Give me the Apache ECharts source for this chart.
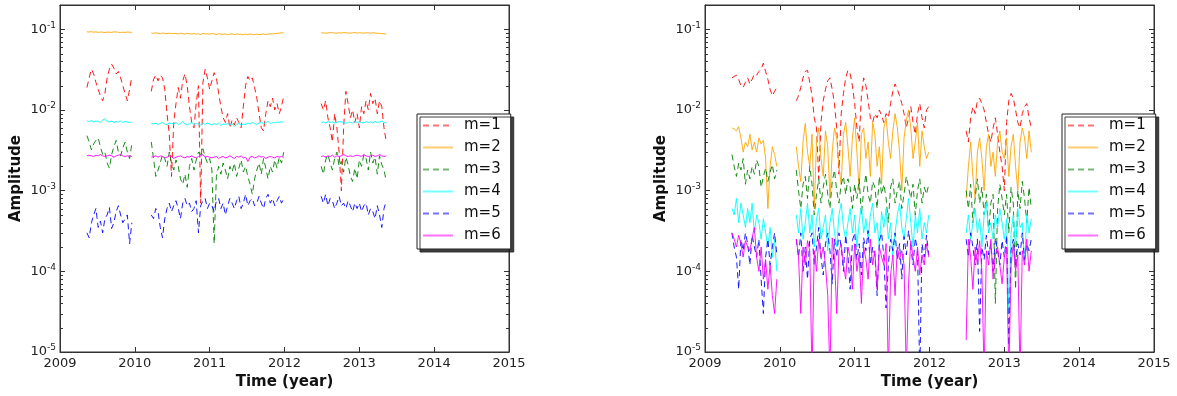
<!DOCTYPE html>
<html>
<head>
<meta charset="utf-8">
<script src="https://cdn.jsdelivr.net/npm/echarts@6/dist/echarts.min.js"></script>
<style>
  html, body { margin: 0; padding: 0; background: #fff; }
  #chart { width: 1177px; height: 396px; }
</style>
</head>
<body>
<div id="chart"></div>
<script>
// sample times (year); gaps between observing seasons are kept as breaks
const time = [
  2009.36, 2009.39, 2009.42, 2009.45, 2009.48, 2009.51, 2009.54, 2009.57, 2009.60, 2009.63, 2009.66,
  2009.69, 2009.72, 2009.75, 2009.78, 2009.81, 2009.84, 2009.87, 2009.90, 2009.93, 2009.96,
  2010.22, 2010.25, 2010.28, 2010.31, 2010.34, 2010.37, 2010.40, 2010.43, 2010.46, 2010.49, 2010.52,
  2010.55, 2010.58, 2010.61, 2010.64, 2010.67, 2010.70, 2010.73, 2010.76, 2010.79, 2010.82, 2010.85,
  2010.88, 2010.91, 2010.94, 2010.97,
  2011.00, 2011.03, 2011.06, 2011.09, 2011.12, 2011.15, 2011.18, 2011.21, 2011.24, 2011.27, 2011.30,
  2011.33, 2011.36, 2011.39, 2011.42, 2011.45, 2011.48, 2011.51, 2011.54, 2011.57, 2011.60, 2011.63,
  2011.66, 2011.69, 2011.72, 2011.75, 2011.78, 2011.81, 2011.84, 2011.87, 2011.90, 2011.93, 2011.96, 2011.99,
  2012.49, 2012.52, 2012.55, 2012.58, 2012.61, 2012.64, 2012.67, 2012.70, 2012.73, 2012.76, 2012.79,
  2012.82, 2012.85, 2012.88, 2012.91, 2012.94, 2012.97,
  2013.00, 2013.03, 2013.06, 2013.09, 2013.12, 2013.15, 2013.18, 2013.21, 2013.24, 2013.27, 2013.30,
  2013.33, 2013.36
];

// amplitudes, all in units of 1e-4
// left panel
const leftM1 = [
  190, 250, 320, 280, 220, 180, 150, 130, 160, 250, 320, 370, 330, 280, 300, 250, 200, 160, 130, 180, 260,
  170, 240, 270, 230, 270, 250, 180, 90, 50, 15, 70, 120, 190, 140, 230, 280, 200, 110, 70, 60, 120, 200, 7, 220, 320, 250,
  180, 230, 290, 250, 160, 110, 80, 70, 90, 60, 75, 65, 80, 70, 60, 110, 200, 260, 230, 250, 190, 140, 90, 60, 55, 90, 130, 110, 140, 100, 120, 90, 110, 150,
  120, 100, 130, 80, 60, 40, 90, 60, 30, 10, 60, 170, 120, 80, 100, 70, 90,
  60, 110, 90, 130, 100, 160, 120, 140, 90, 130, 110, 60, 40
];
const leftM2 = [
  930, 925, 935, 920, 930, 915, 925, 920, 910, 925, 920, 915, 930, 925, 920, 910, 920, 915, 925, 920, 915,
  900, 890, 905, 895, 880, 900, 890, 885, 895, 880, 890, 885, 875, 895, 880, 870, 890, 880, 875, 885, 870, 880, 860, 890, 875, 880,
  870, 885, 875, 860, 880, 870, 865, 875, 855, 870, 880, 860, 875, 865, 870, 855, 870, 860, 875, 865, 855, 870, 860, 865, 875, 860, 870, 880, 875, 885, 890, 895, 905, 900,
  900, 905, 895, 900, 910, 905, 900, 895, 905, 900, 910, 905, 900, 895, 905, 910, 900,
  905, 900, 895, 905, 900, 895, 905, 900, 895, 890, 885, 880, 875
];
const leftM3 = [
  48, 40, 32, 38, 42, 45, 35, 28, 30, 22, 19, 28, 35, 42, 30, 27, 34, 40, 30, 25, 38,
  40, 25, 15, 18, 22, 28, 25, 20, 30, 22, 18, 24, 20, 14, 12, 16, 11, 20, 25, 18, 24, 30, 28, 33, 26, 22,
  25, 18, 2.2, 15, 20, 16, 22, 18, 14, 20, 17, 22, 15, 19, 24, 17, 20, 15, 12, 9, 14, 18, 22, 16, 25, 19, 14, 20, 17, 24, 19, 26, 22, 30,
  20, 16, 24, 28, 22, 18, 25, 30, 20, 23, 17, 26, 21, 15, 13, 19, 14,
  24, 20, 28, 25, 18, 30, 22, 26, 16, 27, 21, 18, 13
];
const leftM4 = [
  73, 72, 74, 71, 73, 72, 70, 75, 78, 72, 71, 73, 70, 72, 71, 73, 70, 72, 71, 70, 71,
  68, 67, 69, 66, 68, 70, 67, 66, 69, 68, 67, 70, 66, 68, 72, 67, 65, 68, 70, 66, 68, 67, 65, 68, 66, 69,
  67, 65, 68, 66, 69, 64, 67, 66, 68, 65, 67, 63, 66, 68, 65, 67, 66, 69, 67, 70, 68, 66, 69, 71, 67, 70, 72, 68, 70, 69, 71, 70, 72, 70,
  70, 71, 69, 72, 70, 71, 69, 70, 72, 71, 70, 68, 71, 70, 69, 72, 70,
  71, 70, 69, 72, 70, 71, 69, 72, 70, 71, 73, 70, 69
];
const leftM5 = [
  3, 2.6, 4, 5, 6, 3.5, 4.2, 3, 4.5, 5, 6.2, 3.4, 4, 5.5, 6.5, 5, 4, 4.5, 5, 2.2, 4,
  5, 4.5, 6, 5.5, 3.5, 2.6, 4.5, 6, 7, 5.5, 6.5, 7.5, 6, 4.5, 7, 8, 6.5, 7, 5.5, 6, 7.5, 3, 6.5, 7.5, 8, 6,
  7, 6.5, 5.5, 7.5, 8, 6, 7, 5, 6.5, 8, 7, 6, 7.5, 8.5, 6, 7, 9, 6.5, 7.5, 8, 6.5, 7, 8.5, 7, 6, 8, 9, 7, 8, 6.5, 7.5, 8.5, 7, 8,
  8.5, 7, 9, 6.5, 8, 7.5, 6, 7, 8.5, 6.5, 7, 6, 7.5, 6.5, 5.5, 7, 6,
  7, 5.5, 6.5, 7, 5, 6, 5.5, 4.5, 6.5, 5, 3.5, 6, 7.5
];
const leftM6 = [
  27, 27.5, 27, 26.5, 27.5, 27, 28, 27, 26.5, 27, 27.5, 27, 26, 27, 27.5, 28, 27, 26.5, 27, 27, 26.5,
  26, 26.5, 27, 26, 27, 26.5, 25.5, 26, 27, 26.5, 25, 26, 26.5, 27, 26, 25.5, 26.5, 26, 27, 26, 25.5, 26.5, 27, 28, 26, 26.5,
  26, 25.5, 26, 26.5, 25, 26, 26.5, 25.5, 26, 27, 26, 25, 26.5, 26, 27, 25.5, 26, 23, 26, 26.5, 25.5, 26, 27, 26, 26.5, 25, 26, 26.5, 26, 25.5, 26.5, 26, 26.5, 26,
  26.5, 27, 26, 27, 26.5, 27.5, 26, 27, 26.5, 27, 28, 27, 26.5, 27, 26.5, 27, 27.5,
  27, 26.5, 28, 27, 26.5, 27, 27.5, 26.5, 27, 28, 27, 26.5, 27
];

// right panel
const rightM1 = [
  250, 260, 270, 240, 200, 190, 220, 250, 210, 240, 280, 270, 300, 320, 380, 300, 240, 180, 150, 170, 190,
  130, 150, 190, 250, 300, 310, 220, 150, 80, 60, 14, 70, 130, 180, 230, 250, 180, 120, 60, 16, 90, 160, 250, 310, 280, 200,
  120, 60, 40, 150, 250, 200, 130, 80, 70, 90, 80, 100, 85, 70, 90, 80, 120, 170, 210, 180, 150, 120, 90, 60, 80, 110, 70, 50, 90, 120, 80, 60, 100, 110,
  55, 40, 80, 110, 90, 130, 140, 120, 100, 70, 50, 40, 60, 80, 50, 30, 20,
  10, 70, 130, 160, 140, 100, 70, 60, 90, 110, 120, 80, 60
];
const rightM2 = [
  60, 58, 55, 62, 45, 30, 40, 35, 50, 32, 40, 30, 45, 38, 42, 25, 6, 20, 35, 28, 20,
  35, 20, 13, 40, 68, 30, 20, 50, 6, 40, 60, 25, 15, 55, 35, 8, 30, 60, 45, 20, 12, 50, 70, 35, 15, 45,
  80, 30, 10, 50, 60, 25, 40, 15, 70, 50, 20, 35, 12, 60, 80, 40, 25, 55, 90, 60, 30, 10, 45, 75, 100, 60, 25, 40, 70, 20, 55, 35, 25, 30,
  8, 20, 40, 15, 8, 30, 45, 25, 10, 35, 50, 20, 30, 15, 40, 55, 30,
  25, 45, 15, 35, 50, 20, 10, 40, 60, 45, 25, 55, 30
];
const rightM3 = [
  28, 20, 15, 22, 18, 25, 12, 18, 14, 20, 16, 24, 20, 11, 15, 19, 13, 17, 21, 14, 18,
  18, 10, 6, 12, 15, 8, 20, 12, 5, 9, 14, 7, 11, 16, 9, 6, 13, 18, 10, 7, 12, 15, 9, 14, 11, 6,
  12, 8, 14, 5, 10, 16, 9, 7, 13, 11, 6, 15, 9, 12, 8, 4, 11, 14, 7, 10, 13, 6, 9, 15, 11, 8, 12, 5, 10, 14, 7, 11, 9, 12,
  10, 6, 12, 4, 8, 14, 7, 11, 5, 9, 3, 7, 9, 0.4, 6, 12, 8,
  5, 9, 3, 11, 7, 0.6, 10, 6, 13, 8, 4, 11, 6
];
const rightM4 = [
  6, 5, 8, 4, 7, 5, 3.5, 6, 4, 7, 3, 5, 4, 2.5, 4.5, 3, 2, 3.5, 1.5, 2.5, 1,
  5, 3, 6, 2.5, 4, 7, 3, 5, 2, 4.5, 6, 2.5, 3.5, 5, 1.8, 4, 6, 3, 2, 5, 7, 3.5, 2.5, 4, 6, 3,
  5, 2, 4, 6.5, 3, 4.5, 2.5, 5, 7, 3, 4, 2, 5.5, 3.5, 6, 2.5, 4, 1.5, 3, 5, 7, 3.5, 2.5, 4.5, 8, 4, 2, 5, 3, 6, 2.5, 4, 3, 5,
  3, 5, 2.5, 4, 6, 3, 4.5, 2, 5, 7, 3, 4, 2.5, 5, 3.5, 6, 4,
  2.5, 4.5, 0.3, 3, 5, 2, 6, 3.5, 4, 1.2, 5, 3, 4.5
];
const rightM5 = [
  3, 2, 1.5, 0.6, 2.5, 1.8, 3, 2.2, 1.2, 2.8, 2, 1.5, 2.5, 0.8, 0.3, 1.5, 2.5, 1.2, 2, 3, 1.6,
  2.5, 1.5, 3, 1, 2, 0.8, 2.5, 3, 1.2, 2, 3.5, 1.5, 0.9, 2.2, 3, 1.8, 0.7, 2.5, 1.5, 3, 2, 1, 2.8, 1.6, 0.6, 2.4,
  3, 1.4, 2.2, 0.9, 2.6, 1.8, 3.2, 1.2, 2, 1.6, 0.5, 2.4, 3, 1.5, 0.35, 1.2, 2.5, 1.8, 3, 1.4, 2.2, 0.8, 2.7, 1.6, 3.2, 2, 1.2, 2.6, 1.8, 0.05, 2.2, 1.5, 2.8, 1.6,
  2.5, 1.5, 3, 2, 1.2, 2.5, 0.18, 2, 1.4, 2.8, 1.6, 2.2, 1, 2.6, 1.8, 1.2, 2.4,
  1.5, 2.8, 0.12, 1.8, 2.5, 1.2, 2.2, 1.6, 3, 1.4, 2.2, 1.8, 2.5
];
const rightM6 = [
  3, 2.5, 2, 2.8, 2.2, 1.5, 2.4, 2, 1.8, 2.6, 3.5, 1.5, 1, 2, 0.8, 1.4, 0.6, 1.2, 0.5, 0.3, 0.8,
  2.5, 1.5, 0.3, 2, 1.2, 2.4, 1.8, 0.05, 1.8, 1, 2.5, 1.5, 2, 1.2, 0.5, 0.05, 2.6, 1.5, 0.3, 1.8, 2.2, 1.2, 0.8, 2, 1.5, 0.6,
  2.2, 1, 1.6, 0.4, 2, 1.4, 0.8, 2.5, 1.2, 1.8, 0.6, 2, 1.5, 1.2, 2.2, 0.05, 0.9, 1.6, 0.5, 2, 1.4, 1.8, 1.2, 0.05, 0.7, 2.4, 1.5, 1, 2, 0.9, 1.6, 1.2, 2.2, 1.5,
  0.14, 2.5, 1.5, 0.6, 2, 1.2, 2.4, 1, 0.05, 1.8, 1.2, 2.5, 0.8, 1.6, 2, 1.2, 0.7,
  1.5, 2, 0.05, 1.2, 2.2, 1, 1.6, 0.05, 1.8, 1.2, 2.5, 1, 1.8
];

const unit = 1e-4;
const names = ['m=1', 'm=2', 'm=3', 'm=4', 'm=5', 'm=6'];
const colors = ['#ff0000', '#ffa500', '#008000', '#00ffff', '#0000ff', '#ff00ff'];
const dashed = [true, false, true, false, true, false];
const xTicks = [2009, 2010, 2011, 2012, 2013, 2014, 2015];
const decades = [1e-5, 1e-4, 1e-3, 1e-2];
const minorSteps = [2, 3, 4, 5, 6, 7, 8, 9];

const panels = [
  { left: 60, series: [leftM1, leftM2, leftM3, leftM4, leftM5, leftM6] },
  { left: 705, series: [rightM1, rightM2, rightM3, rightM4, rightM5, rightM6] }
];

const FONT = 'DejaVu Sans';
const AXIS_COLOR = '#333';

function toPairs(values) {
  const out = [];
  for (let i = 0; i < time.length; i++) {
    if (i > 0 && time[i] - time[i - 1] > 0.1) {
      out.push([time[i - 1] + 0.01, null]);
    }
    out.push([time[i], values[i] * unit]);
  }
  return out;
}

function powLabel(val) {
  const e = Math.round(Math.log10(val));
  if (Math.abs(val / Math.pow(10, e) - 1) > 1e-6) return '';
  return '{b|10}{s|' + e + '}';
}

// log minor tick positions (2..9 x 10^n), plus 0.2 at the top edge
const minorVals = [];
decades.forEach(d => minorSteps.forEach(s => minorVals.push(+(d * s).toPrecision(3))));
[0.2, 0.3, 0.4, 0.5, 0.6, 0.7, 0.8, 0.9].forEach(s => minorVals.push(s * 0.1));

function minorTickItem(params, api) {
  const v = api.value(1);
  const a = api.coord([2009, v]);
  const b = api.coord([2015, v]);
  const y = Math.round(a[1]) + 0.5;
  const st = { stroke: AXIS_COLOR, lineWidth: 1 };
  return {
    type: 'group',
    children: [
      { type: 'line', shape: { x1: a[0], y1: y, x2: a[0] + 3, y2: y }, style: st },
      { type: 'line', shape: { x1: b[0], y1: y, x2: b[0] - 3, y2: y }, style: st }
    ]
  };
}

const grids = [], xAxes = [], yAxes = [], series = [], legends = [];

panels.forEach((p, gi) => {
  grids.push({ left: p.left, top: 5, width: 449, height: 347, show: true,
    borderColor: AXIS_COLOR, borderWidth: 1, backgroundColor: 'transparent' });

  // bottom axis with labels
  xAxes.push({
    type: 'value', gridIndex: gi, min: 2009, max: 2015, interval: 1,
    name: 'Time (year)', nameLocation: 'middle', nameGap: 20,
    nameTextStyle: { fontFamily: FONT, fontWeight: 'bold', fontSize: 15, color: '#111' },
    axisLine: { show: true, onZero: false, lineStyle: { color: AXIS_COLOR } },
    axisTick: { show: true, inside: true, length: 5, lineStyle: { color: AXIS_COLOR } },
    axisLabel: { fontFamily: FONT, fontSize: 13, color: '#222', margin: 5,
      formatter: v => xTicks.includes(v) ? String(v) : '' },
    splitLine: { show: false }
  });
  // top axis, ticks only
  xAxes.push({
    type: 'value', gridIndex: gi, position: 'top', min: 2009, max: 2015, interval: 1,
    axisLine: { show: true, onZero: false, lineStyle: { color: AXIS_COLOR } },
    axisTick: { show: true, inside: true, length: 5, lineStyle: { color: AXIS_COLOR } },
    axisLabel: { show: false }, splitLine: { show: false }
  });
  // left log axis with labels
  yAxes.push({
    type: 'log', gridIndex: gi, min: 1e-5, max: 0.2, logBase: 10,
    name: 'Amplitude', nameLocation: 'middle', nameGap: 36,
    nameTextStyle: { fontFamily: FONT, fontWeight: 'bold', fontSize: 15, color: '#111' },
    axisLine: { show: true, onZero: false, lineStyle: { color: AXIS_COLOR } },
    axisTick: { show: true, inside: true, length: 5, lineStyle: { color: AXIS_COLOR } },
    minorTick: { show: false },
    axisLabel: { margin: 4, formatter: powLabel, color: '#222',
      rich: {
        b: { fontFamily: FONT, fontSize: 13, color: '#222' },
        s: { fontFamily: FONT, fontSize: 9, color: '#222', padding: [0, 0, 8, 0] }
      } },
    splitLine: { show: false }
  });
  // right log axis, ticks only
  yAxes.push({
    type: 'log', gridIndex: gi, position: 'right', min: 1e-5, max: 0.2, logBase: 10,
    axisLine: { show: true, onZero: false, lineStyle: { color: AXIS_COLOR } },
    axisTick: { show: true, inside: true, length: 5, lineStyle: { color: AXIS_COLOR } },
    minorTick: { show: false },
    axisLabel: { show: false }, splitLine: { show: false }
  });

  p.series.forEach((vals, k) => {
    series.push({
      type: 'line', name: names[k], xAxisIndex: gi * 2, yAxisIndex: gi * 2,
      data: toPairs(vals), symbol: 'none', showSymbol: false, connectNulls: false,
      clip: true, silent: true, z: 2,
      lineStyle: { color: colors[k], width: 1, opacity: 0.9, type: dashed[k] ? [6, 4] : 'solid' },
      itemStyle: { color: colors[k] }
    });
  });

  series.push({
    type: 'custom', xAxisIndex: gi * 2, yAxisIndex: gi * 2, silent: true, z: 3,
    data: minorVals.map(v => [2009, v]), encode: { x: 0, y: 1 },
    renderItem: minorTickItem, clip: false
  });

  legends.push({
    data: names, orient: 'vertical', left: p.left + 357, top: 114,
    itemWidth: 30, itemHeight: 14, itemGap: 7, padding: [4, 10, 6, 5],
    backgroundColor: '#fff', borderColor: '#222', borderWidth: 1, borderRadius: 0,
    shadowColor: 'rgba(30,30,30,0.85)', shadowBlur: 0, shadowOffsetX: 3, shadowOffsetY: 3,
    selectedMode: false,
    itemStyle: { opacity: 0 },
    lineStyle: { width: 2, opacity: 0.55 },
    textStyle: { fontFamily: FONT, fontSize: 15, color: '#111', padding: [0, 0, 0, 6] }
  });
});

const chart = echarts.init(document.getElementById('chart'), null, { renderer: 'canvas' });
chart.setOption({
  animation: false,
  backgroundColor: '#fff',
  grid: grids,
  xAxis: xAxes,
  yAxis: yAxes,
  legend: legends,
  series: series
});
</script>
</body>
</html>
